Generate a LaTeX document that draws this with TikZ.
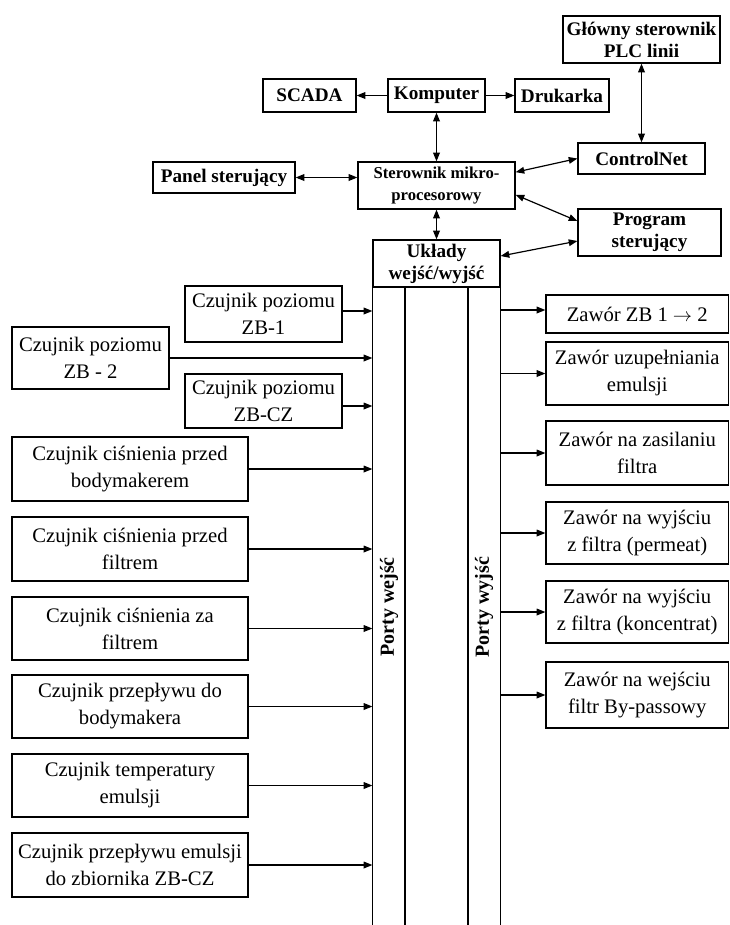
\documentclass[tikz,border=0pt]{standalone}
\usepackage{fontspec}
\setmainfont{Liberation Serif}
\usetikzlibrary{arrows.meta,calc}
\newcommand\mybox[7]{\node[box,#6,minimum width={(#4-#2)*0.75pt},minimum height={(#5-#3)*0.75pt}] (#1) at ({(#2+#4)/2},{(#3+#5)/2}) {#7};}
\begin{document}
\begin{tikzpicture}[x=0.75pt,y=-0.75pt,
  box/.style={draw,line width=0.9pt,inner sep=0pt,align=center},
  bt/.style={font=\bfseries\fontsize{14.4}{16.5}\selectfont},
  st/.style={font=\bfseries\fontsize{12.5}{16}\selectfont},
  rt/.style={font=\fontsize{15.5}{20.25}\selectfont},
  pt/.style={font=\bfseries\fontsize{15}{18}\selectfont},
  tip/.tip={Triangle[length=6.5pt,width=5pt]},
  con/.style={line width=0.9pt,-tip},
  bicon/.style={line width=0.9pt,tip-tip},
  col/.style={line width=0.9pt},
]
\useasboundingbox (0,0) rectangle (729,925);
% top section
\mybox{glowny}{563}{16}{720}{63}{bt}{Główny sterownik\\PLC linii}
\mybox{scada}{263}{79}{356}{112}{bt}{SCADA}
\mybox{komp}{388}{79}{485}{112}{bt}{Komputer}
\mybox{druk}{515}{79}{609}{112}{bt}{Drukarka}
\mybox{ctrl}{578}{143}{705}{174}{bt}{ControlNet}
\mybox{panel}{153}{162}{295}{193}{bt}{Panel sterujący}
\mybox{ster}{358}{162}{515}{209}{st}{Sterownik mikro-\\procesorowy}
\mybox{prog}{578}{209}{721}{256}{bt}{Program\\sterujący}
\mybox{io}{373}{240}{500}{287}{bt}{Układy\\wejść/wyjść}
% columns
\coordinate (bot) at (0,925);
\coordinate (c1) at (405,287);
\coordinate (c2) at (468,287);
\draw[col] (io.south west) -- (io.south west |- bot);
\draw[col] (c1) -- (c1 |- bot);
\draw[col] (c2) -- (c2 |- bot);
\draw[col] (io.south east) -- (io.south east |- bot);
\node[pt,rotate=90] (pin) at (389,607) {Porty wejść};
\node[pt,rotate=90] (pout) at (484,607) {Porty wyjść};
% left sensors
\mybox{zb1}{185}{286}{342}{342}{rt}{Czujnik poziomu\\ZB-1}
\mybox{zb2}{12}{327}{169}{389}{rt}{Czujnik poziomu\\ZB - 2}
\mybox{zbcz}{185}{374}{342}{428}{rt}{Czujnik poziomu\\ZB-CZ}
\mybox{cp1}{12}{437}{248}{501}{rt}{Czujnik ciśnienia przed\\bodymakerem}
\mybox{cp2}{12}{517}{248}{581}{rt}{Czujnik ciśnienia przed\\filtrem}
\mybox{cp3}{12}{597}{248}{660}{rt}{Czujnik ciśnienia za\\filtrem}
\mybox{cprz}{12}{675}{248}{738}{rt}{Czujnik przepływu do\\bodymakera}
\mybox{ctemp}{12}{754}{248}{817}{rt}{Czujnik temperatury\\emulsji}
\mybox{cem}{12}{833}{248}{897}{rt}{Czujnik przepływu emulsji\\do zbiornika ZB-CZ}
% right valves
\mybox{z1}{546}{295}{728.5}{333}{rt}{Zawór ZB 1 $\rightarrow$ 2}
\mybox{z2}{546}{342}{728.5}{405}{rt}{Zawór uzupełniania\\emulsji}
\mybox{z3}{546}{421}{728.5}{485}{rt}{Zawór na zasilaniu\\filtra}
\mybox{z4}{546}{502}{728.5}{564}{rt}{Zawór na wyjściu\\z filtra (permeat)}
\mybox{z5}{546}{581}{728.5}{643}{rt}{Zawór na wyjściu\\z filtra (koncentrat)}
\mybox{z6}{546}{662}{728.5}{728}{rt}{Zawór na wejściu\\filtr By-passowy}
% top connectors
\draw[con] (komp) -- (scada);
\draw[con] (komp) -- (druk);
\draw[bicon] (komp) -- (ster);
\draw[bicon] (glowny) -- (ctrl);
\draw[bicon] (panel.east) -- (panel.east -| ster.west);
\draw[bicon] (ster) -- (io);
\draw[bicon] ([yshift=10pt]ster.east) -- (ctrl.west);
\draw[bicon] ([yshift=-7pt]ster.east) -- ([yshift=8.6pt]prog.west);
\draw[bicon] ([yshift=5.6pt]io.east) -- ([yshift=-6.4pt]prog.west);
% sensor connectors
\coordinate (zb1o) at ([yshift=2.25pt]zb1.east);
\coordinate (zbczo) at ([yshift=-3.75pt]zbcz.east);
\draw[con] (zb1o) -- (zb1o -| io.west);
\draw[con] (zb2.east) -- (zb2.east -| io.west);
\draw[con] (zbczo) -- (zbczo -| io.west);
\foreach \n in {cp1,cp2,cp3,cprz,ctemp,cem}{
  \draw[con] (\n.east) -- (\n.east -| io.west);
}
% valve connectors
\coordinate (z1i) at ([yshift=3pt]z1.west);
\draw[con] (z1i -| io.east) -- (z1i);
\foreach \n in {z2,z3,z4,z5,z6}{
  \draw[con] (\n.west -| io.east) -- (\n.west);
}
\end{tikzpicture}
\end{document}
